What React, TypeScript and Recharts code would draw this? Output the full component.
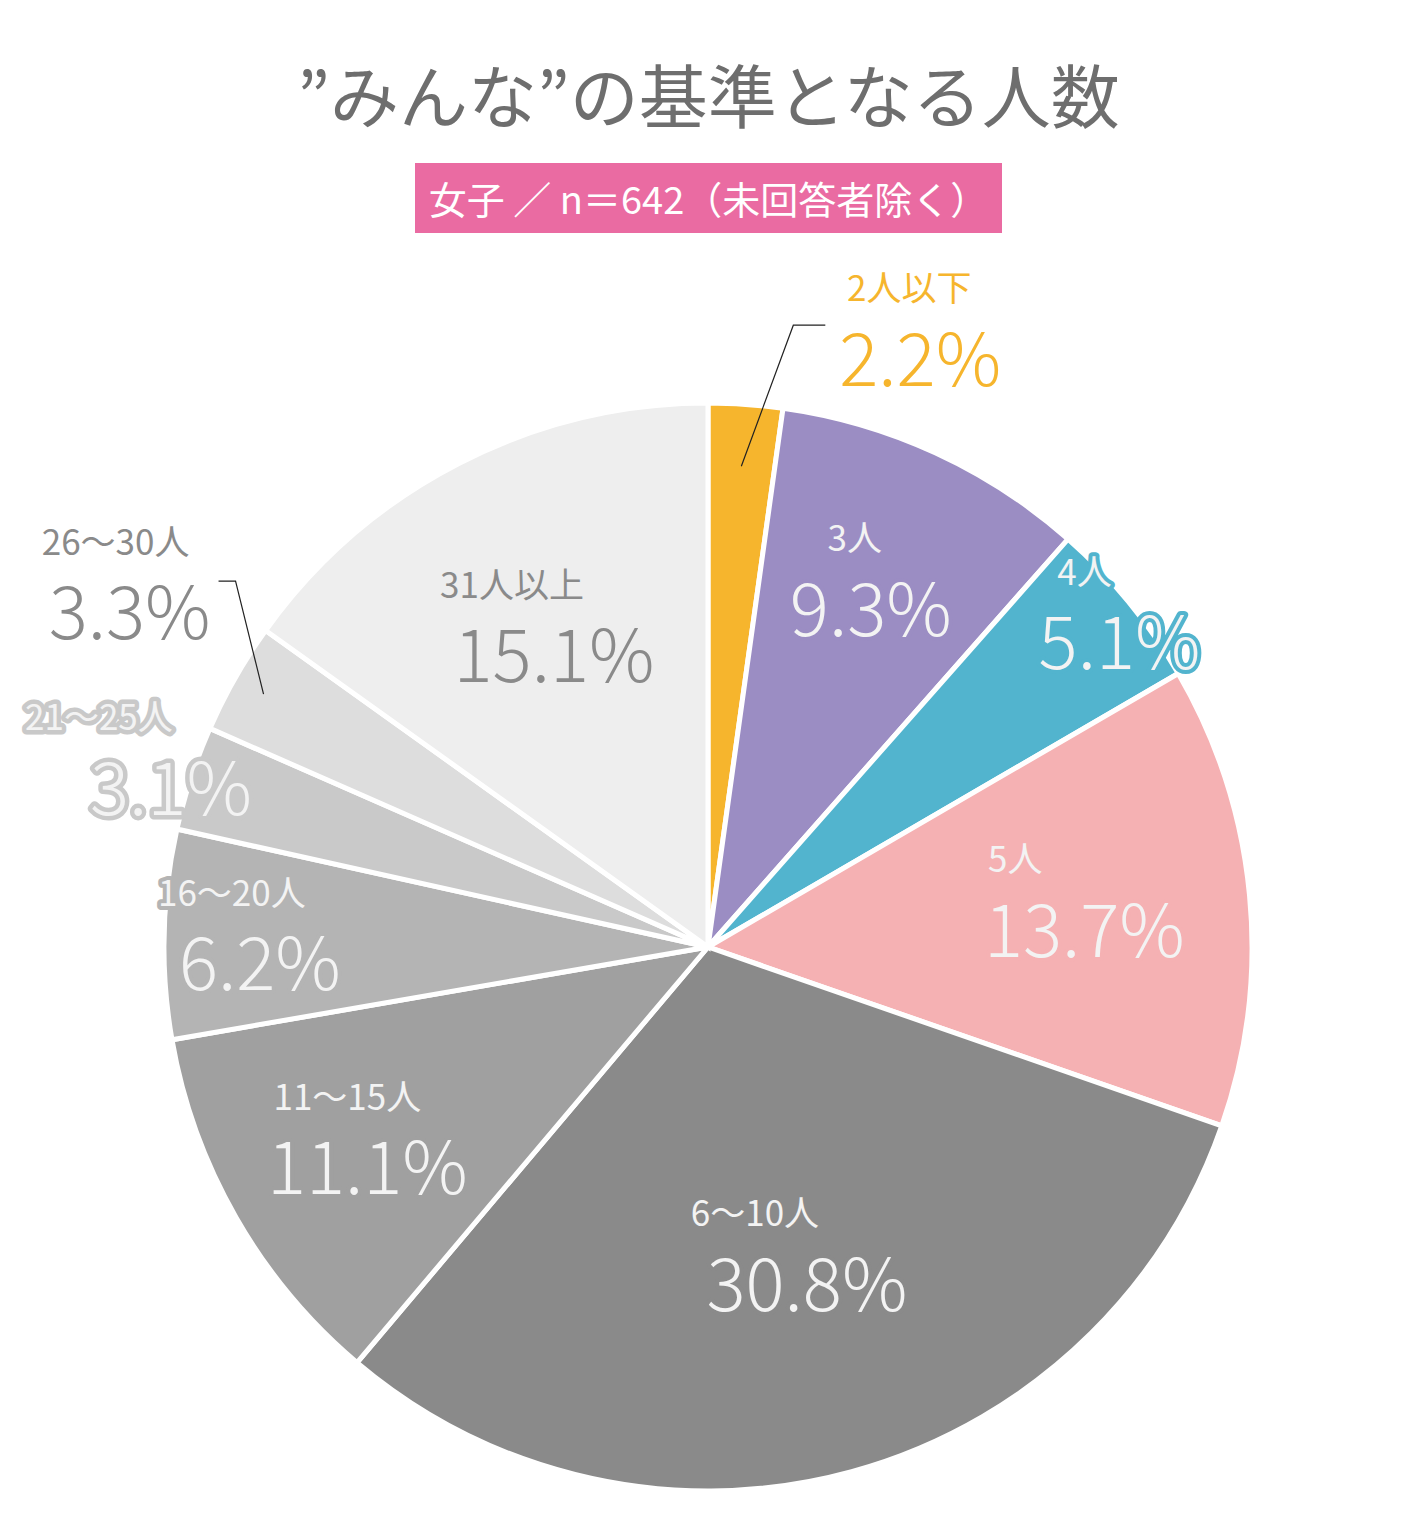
import { PieChart, Pie, Cell } from 'recharts';

const CATEGORIES = ['2人以下', '3人', '4人', '5人', '6～10人', '11～15人', '16～20人', '21～25人', '26～30人', '31人以上'];
const SHARES = [2.2, 9.3, 5.1, 13.7, 30.8, 11.1, 6.2, 3.1, 3.3, 15.1];
const TITLE = '”みんな”の基準となる人数';
const SUBTITLE = '女子 ／ n＝642（未回答者除く）';

const COLORS = ['#F6B52D', '#9B8DC3', '#52B4CE', '#F5B1B3', '#8A8A8A', '#A0A0A0', '#B4B4B4', '#C9C9C9', '#DDDDDD', '#EEEEEE'];

// label placement: radius factor along midAngle, pixel nudge, name offset
const LABEL_POS = [
  { k: 1.15, dx: 169, dy: 35, ndx: -11 },
  { k: 0.69, dx: 6, dy: 2, ndx: -16 },
  { k: 0.95, dx: 12, dy: 22, ndx: -35 },
  { k: 0.695, dx: 0, dy: 18, ndx: -69 },
  { k: 0.64, dx: 7, dy: 0, ndx: -52 },
  { k: 0.726, dx: 2, dy: 23, ndx: -20 },
  { k: 0.824, dx: 0, dy: 26, ndx: -28 },
  { k: 1.0, dx: -20, dy: 9, ndx: -72 },
  { k: 1.2, dx: -11, dy: -13, ndx: -14 },
  { k: 0.607, dx: -3, dy: 1, ndx: -42 },
];

const data = CATEGORIES.map((name, i) => ({ name, value: SHARES[i] }));

const FONT = "'Noto Sans CJK JP', 'Noto Sans', sans-serif";
const RAD = Math.PI / 180;

function polar(cx: number, cy: number, r: number, angle: number) {
  return { x: cx + r * Math.cos(-angle * RAD), y: cy + r * Math.sin(-angle * RAD) };
}

function renderLabel(props: any) {
  const { cx, cy, midAngle, outerRadius, index } = props;
  const lp = LABEL_POS[index];
  const p = polar(cx, cy, outerRadius * lp.k, midAngle);
  const x = p.x + lp.dx;
  const y = p.y + lp.dy - 4;
  const dark = index === 0 || index === 8 || index === 9;
  const fill = index === 0 ? COLORS[0] : dark ? '#8A8A8A' : '#F3F3F3';
  const halo = dark ? 'none' : COLORS[index];
  const sw = index === 7 ? 9 : 8;
  let leader = null;
  if (index === 0) {
    const a = polar(cx, cy, outerRadius * 0.886, midAngle);
    leader = <polyline points={`${a.x},${a.y} ${a.x + 52},${a.y - 141} ${a.x + 84},${a.y - 141}`} fill="none" stroke="#222" strokeWidth={1.2} />;
  }
  if (index === 8) {
    const a = polar(cx, cy, outerRadius * 0.94, midAngle);
    leader = <polyline points={`${a.x},${a.y} ${a.x - 28},${a.y - 113} ${a.x - 45},${a.y - 113}`} fill="none" stroke="#222" strokeWidth={1.2} />;
  }
  const common = {
    fontFamily: FONT,
    textAnchor: 'middle' as const,
    dominantBaseline: 'central' as const,
    fill,
    stroke: halo,
    strokeWidth: sw,
    strokeLinejoin: 'round' as const,
    paintOrder: 'stroke' as const,
  };
  return (
    <g key={`lbl-${index}`}>
      {leader}
      <text x={x + lp.ndx} y={y - 68} fontSize={35} fontWeight={400} {...common}>{CATEGORIES[index]}</text>
      <text x={x} y={y} fontSize={73} fontWeight={300} {...common}>{SHARES[index].toFixed(1)}%</text>
    </g>
  );
}

export default function App() {
  return (
    <div style={{ position: 'absolute', left: 0, top: 0, width: 1417, height: 1537, background: '#fff', fontFamily: FONT }}>
      <div style={{ position: 'absolute', left: 0, top: 48, width: 1417, textAlign: 'center', fontSize: 69, fontWeight: 400, color: '#6E6E6E', lineHeight: '90px', whiteSpace: 'nowrap' }}>
        {TITLE}
      </div>
      <div style={{ position: 'absolute', left: 415, top: 163, width: 587, height: 70, background: '#EA6BA2', color: '#fff', fontSize: 38, fontWeight: 400, lineHeight: '70px', textAlign: 'center', whiteSpace: 'nowrap' }}>
        {SUBTITLE}
      </div>
      <div style={{ position: 'absolute', left: 0, top: 0 }}>
        <PieChart width={1417} height={1537} margin={{ top: 0, right: 0, bottom: 0, left: 0 }}>
          <Pie
            data={data}
            dataKey="value"
            nameKey="name"
            cx={708}
            cy={947}
            outerRadius={544}
            startAngle={90}
            endAngle={-270}
            stroke="#fff"
            strokeWidth={5}
            label={renderLabel}
            labelLine={false}
            isAnimationActive={false}
          >
            {data.map((d, i) => (
              <Cell key={d.name} fill={COLORS[i]} />
            ))}
          </Pie>
        </PieChart>
      </div>
    </div>
  );
}
